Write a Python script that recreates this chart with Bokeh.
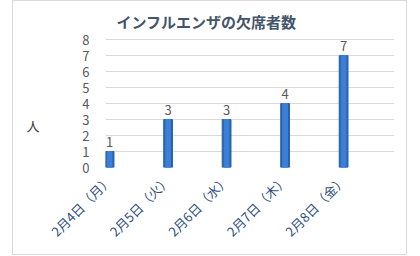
from math import pi
from bokeh.plotting import figure
from bokeh.models import FixedTicker, ColumnDataSource, LinearAxis
from bokeh.core.properties import value
from bokeh.embed import file_html
from bokeh.resources import INLINE

title_text = "インフルエンザの欠席者数"
categories = ["2月4日（月）", "2月5日（火）", "2月6日（水）", "2月7日（木）", "2月8日（金）"]
absent = [1, 3, 3, 4, 7]
y_ticks = [0, 1, 2, 3, 4, 5, 6, 7, 8]
y_title = "人"

FONT = "Noto Sans CJK JP"
xs = list(range(len(categories)))
src = ColumnDataSource(dict(x=xs, top=absent, lab=[str(v) for v in absent]))

p = figure(width=395, height=255, output_backend="svg", toolbar_location=None,
           x_range=(-0.07, 4.87), y_range=(0, 8.2),
           min_border_left=92, min_border_right=14, min_border_top=35, min_border_bottom=89)
p.margin = (0, 0, 0, 12)
p.styles = {"border": "1px solid #D9D9D9", "box-sizing": "border-box"}
p.outline_line_color = None
p.background_fill_color = "white"
p.border_fill_color = "white"

p.title.text = title_text
p.title.align = "left"
p.title.offset = 11
p.title.text_font = FONT
p.title.text_font_size = "15px"
p.title.text_font_style = "bold"
p.title.text_color = "#44546A"
p.title.standoff = 10

p.vbar(x="x", top="top", width=0.15, color="#2A62AE", source=src)
p.vbar(x="x", top="top", width=0.08, color="#3C80D6", source=src)
p.text(x="x", y="top", text="lab", source=src, y_offset=-5, text_align="center",
       text_baseline="bottom", text_font=value(FONT), text_font_size="13px", text_color="#595959")

p.xgrid.grid_line_color = None
p.ygrid.grid_line_color = "#D9D9D9"
p.yaxis.ticker = FixedTicker(ticks=y_ticks)
p.xaxis.ticker = FixedTicker(ticks=xs)
p.xaxis.major_label_overrides = {i: c for i, c in enumerate(categories)}
p.xaxis.major_label_orientation = pi / 4
for ax in (p.xaxis, p.yaxis):
    ax.axis_line_color = None
    ax.major_tick_line_color = None
    ax.minor_tick_line_color = None
    ax.major_label_text_font = FONT
p.xaxis.major_label_text_font_size = "13px"
p.yaxis.major_label_text_font_size = "13px"
p.xaxis.major_label_text_color = "#2F4F7F"
p.yaxis.major_label_text_color = "#595959"
p.yaxis.major_label_standoff = 10
p.xaxis.major_label_standoff = 4

# axis title "人", placed as the only label of an extra left axis
title_axis = LinearAxis(ticker=FixedTicker(ticks=[2.6]),
                        major_label_overrides={2.6: y_title},
                        axis_line_color=None, major_tick_line_color=None,
                        minor_tick_line_color=None,
                        major_label_text_font=FONT, major_label_text_font_size="13px",
                        major_label_text_color="#404040", major_label_standoff=34)
p.add_layout(title_axis, "left")

open("out.html", "w").write(file_html(p, INLINE))
